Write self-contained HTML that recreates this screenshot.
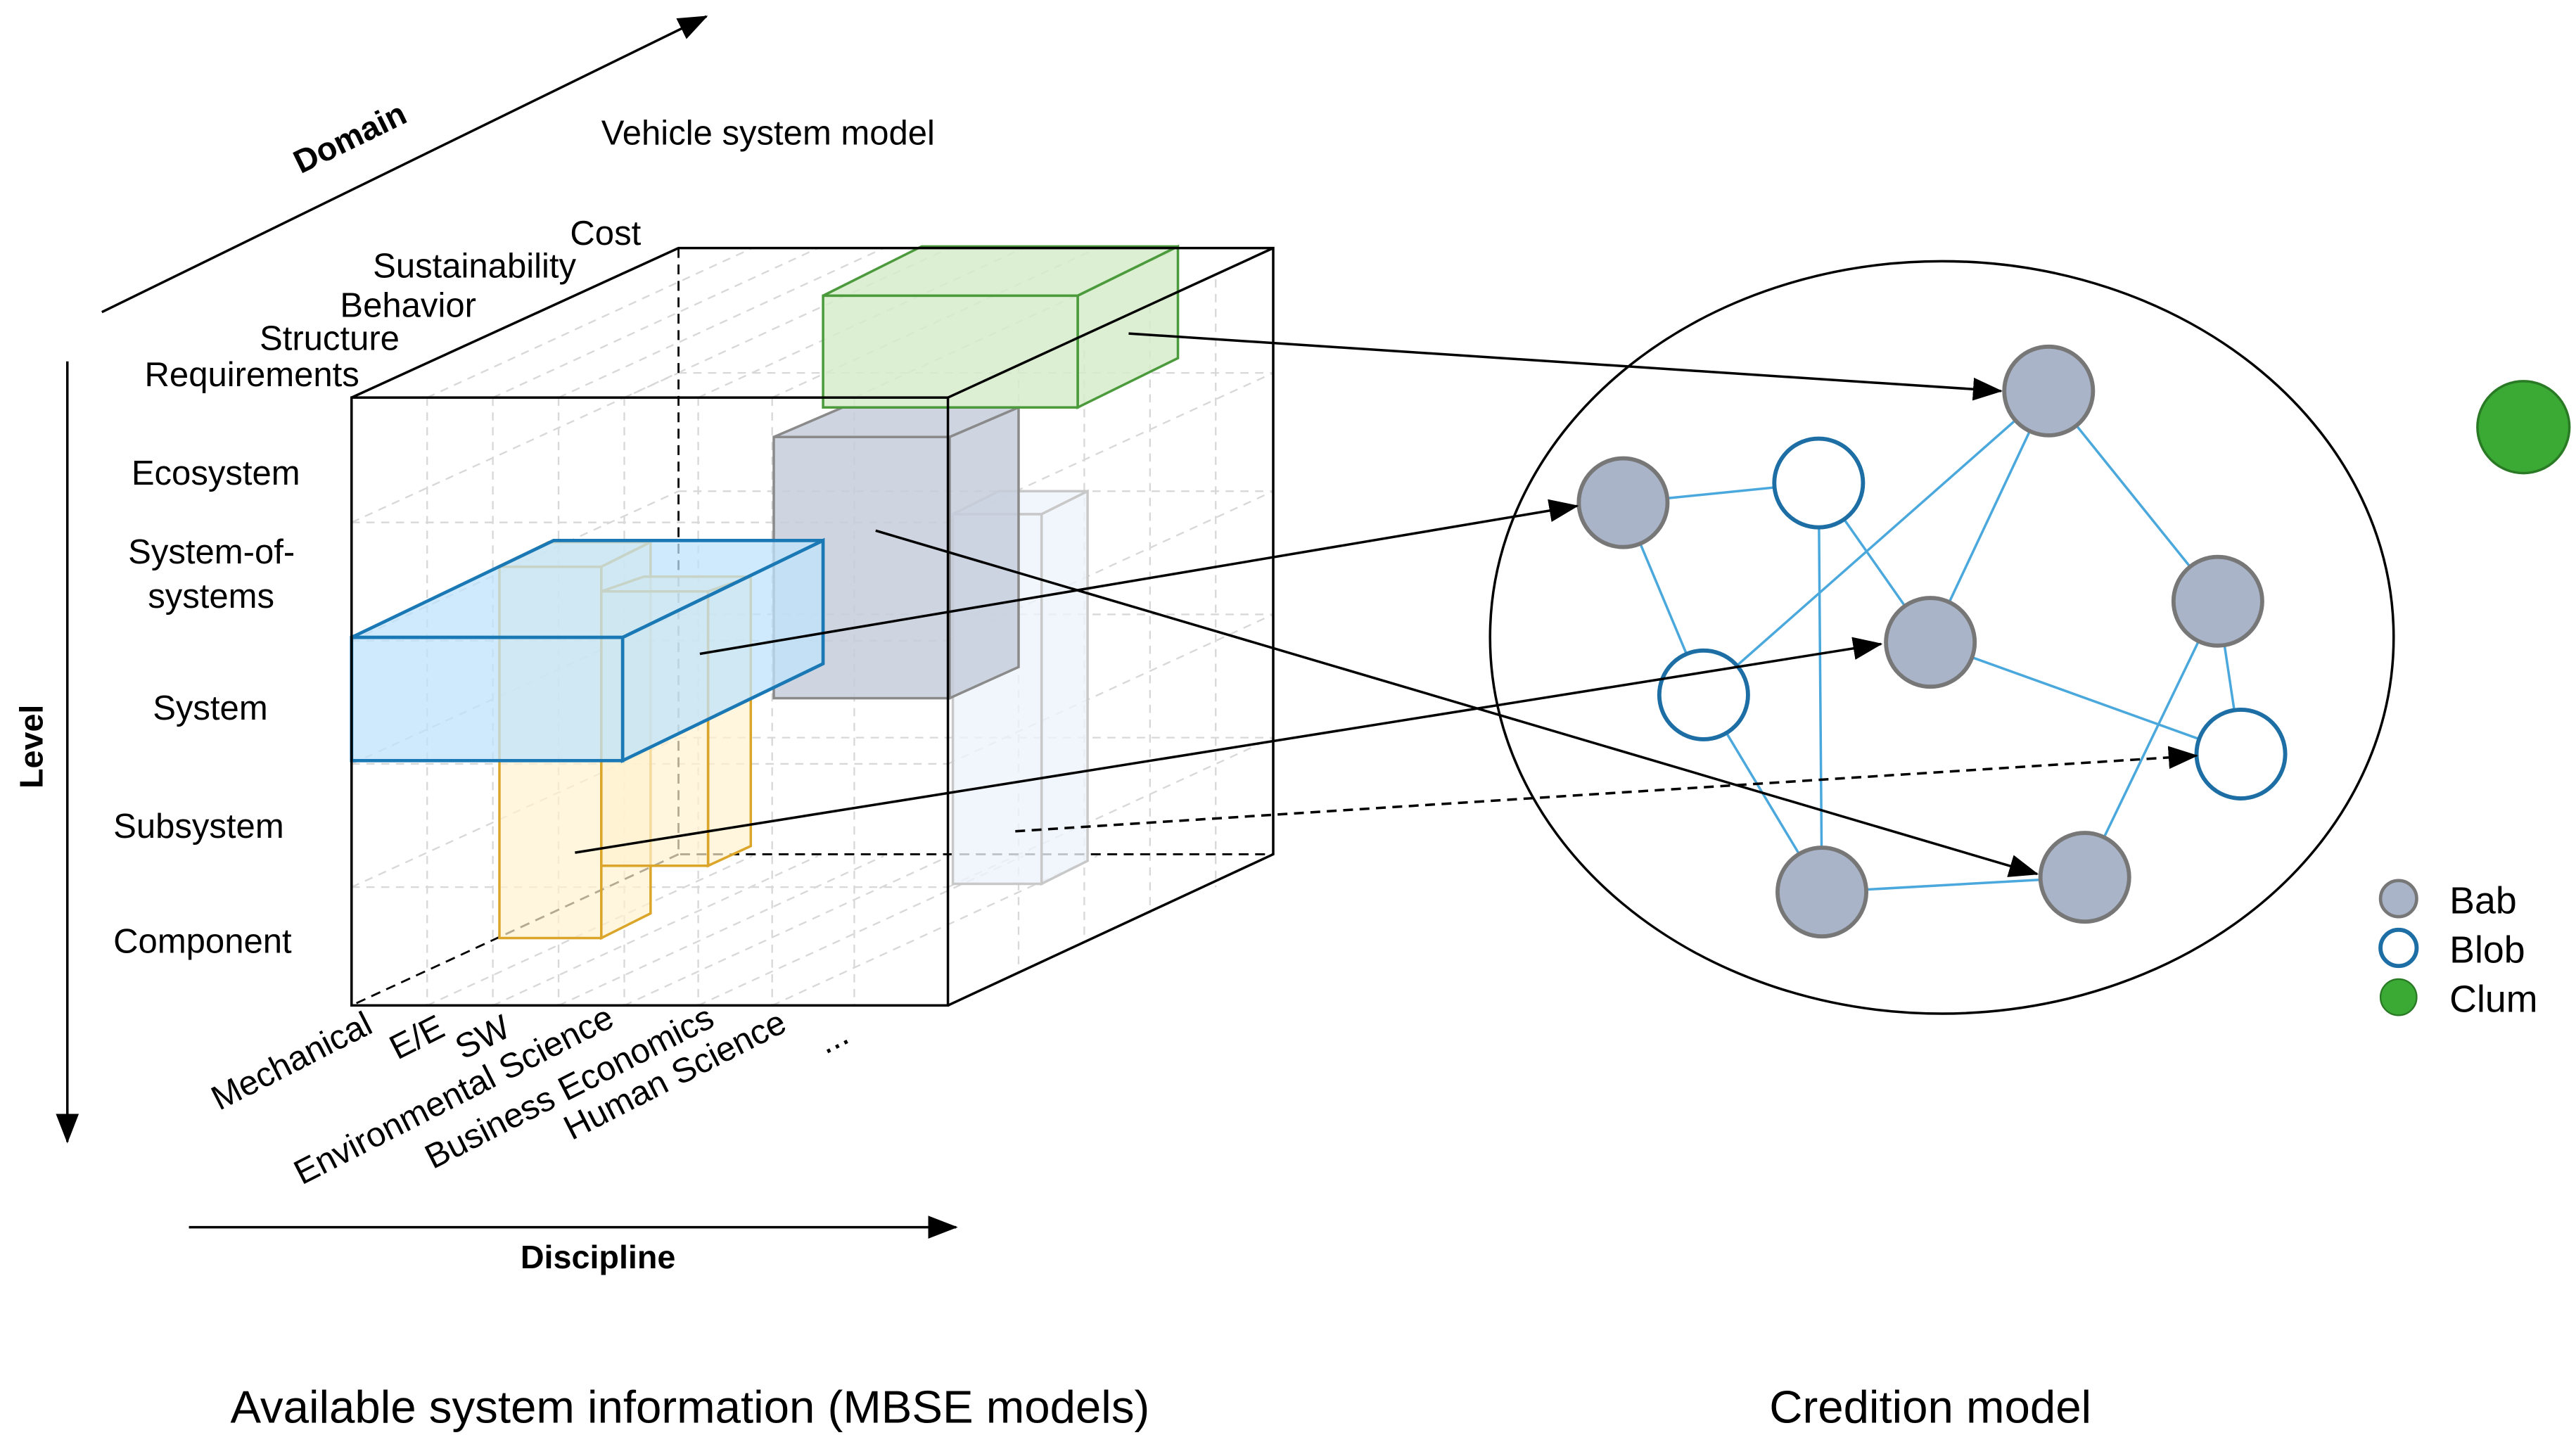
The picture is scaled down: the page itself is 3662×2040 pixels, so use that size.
<!DOCTYPE html>
<html><head><meta charset="utf-8"><style>
html,body{margin:0;padding:0;background:#fff;}
svg{display:block;}
text{font-family:"Liberation Sans",Arial,sans-serif;fill:#000;}
</style></head><body>
<svg width="3662" height="2040" viewBox="0 0 1568 873.5" preserveAspectRatio="none" xmlns="http://www.w3.org/2000/svg">
<defs>
<marker id="ahb" markerWidth="18" markerHeight="18" refX="17" refY="9" orient="auto" markerUnits="userSpaceOnUse" viewBox="0 0 18 18"><path d="M0,2 L18,9 L0,16 z" fill="#000"/></marker>
</defs>

<g stroke="#d8d8d8" stroke-width="1" stroke-dasharray="5,4" fill="none">
<path d="M260,242V612M300,242V612M340,242V612M380,242V612M425,242V612M470,242V612M520,242V612"/>
<path d="M214,318H577M214,390H577M214,465H577M214,540H577"/>
<path d="M214,318L413,227M214,390L413,299M214,465L413,374M214,540L413,449"/>
<path d="M413,227H775M413,299H775M413,374H775M413,449H775"/>
<path d="M260,242L458,151M300,242L498,151M340,242L538,151M380,242L578,151M425,242L623,151M470,242L668,151M520,242L718,151"/>
<path d="M577,318L775,227M577,390L775,299M577,465L775,374M577,540L775,449"/>
<path d="M620,222V592M660,204V574M700,186V556M740,170V540"/>
<path d="M260,612L458,521M300,612L498,521M340,612L538,521M380,612L578,521M425,612L623,521M470,612L668,521"/>
</g>

<g stroke="#000" stroke-width="1.2" stroke-dasharray="6,4" fill="none">
<path d="M413,151V520H775M413,520L214,612"/>
</g>

<g stroke="#c8c8c8" stroke-width="1.5" fill="#eef4fb" fill-opacity="0.8">
<path d="M580,313L608,299H662L634,313Z"/>
<path d="M634,313L662,299V524L634,538Z"/>
<rect x="580" y="313" width="54" height="225"/>
</g>

<g stroke="#dba52a" stroke-width="1.5" fill="#fff2cf" fill-opacity="0.7">
<path d="M304,345L334,330H396L366,345Z"/>
<path d="M366,345L396,330V556L366,571Z"/>
<rect x="304" y="345" width="62" height="226"/>
<path d="M366,360L392,351H457L431,360Z"/>
<path d="M431,360L457,351V515L431,527Z"/>
<rect x="366" y="360" width="65" height="167"/>
</g>

<g stroke="#8a8a8a" stroke-width="1.5" fill="#c5cedc" fill-opacity="0.85">
<path d="M471,266L513,248H620L578,266Z"/>
<path d="M578,266L620,248V406L578,425Z"/>
<rect x="471" y="266" width="107" height="159"/>
</g>

<g stroke="#4b9a3b" stroke-width="1.5" fill="#d6ecca" fill-opacity="0.85">
<path d="M501,180L561,150H717L656,180Z"/>
<path d="M656,180L717,150V218L656,248Z"/>
<rect x="501" y="180" width="155" height="68"/>
</g>

<g stroke="#1a78b5" stroke-width="2" fill="#bfe3fb" fill-opacity="0.75">
<path d="M214,388L337,329H501L379,388Z"/>
<path d="M379,388L501,329V404L379,463Z"/>
<rect x="214" y="388" width="165" height="75"/>
</g>

<g stroke="#000" stroke-width="1.5" fill="none">
<rect x="214" y="242" width="363" height="370"/>
<path d="M214,242L413,151H775V520L577,612M577,242L775,151"/>
</g>

<g stroke="#000" stroke-width="1.5" fill="none">
<line x1="62" y1="190" x2="430" y2="10" marker-end="url(#ahb)"/>
<line x1="41" y1="220" x2="41" y2="695" marker-end="url(#ahb)"/>
<line x1="115" y1="747" x2="582" y2="747" marker-end="url(#ahb)"/>
</g>

<ellipse cx="1182" cy="388" rx="275" ry="229" fill="none" stroke="#000" stroke-width="1.5"/>
<g stroke="#4aa8dc" stroke-width="1.5">
<line x1="988" y1="306" x2="1107" y2="294"/><line x1="988" y1="306" x2="1037" y2="423"/>
<line x1="1107" y1="294" x2="1109" y2="543"/><line x1="1107" y1="294" x2="1175" y2="391"/>
<line x1="1037" y1="423" x2="1247" y2="238"/><line x1="1247" y1="238" x2="1175" y2="391"/>
<line x1="1247" y1="238" x2="1350" y2="366"/><line x1="1037" y1="423" x2="1109" y2="543"/>
<line x1="1109" y1="543" x2="1269" y2="534"/><line x1="1175" y1="391" x2="1364" y2="459"/>
<line x1="1350" y1="366" x2="1364" y2="459"/><line x1="1350" y1="366" x2="1269" y2="534"/>
</g>
<g fill="#a9b4c9" stroke="#777" stroke-width="2.5">
<circle cx="1247" cy="238" r="27"/><circle cx="988" cy="306" r="27"/><circle cx="1175" cy="391" r="27"/>
<circle cx="1350" cy="366" r="27"/><circle cx="1109" cy="543" r="27"/><circle cx="1269" cy="534" r="27"/>
</g>
<g fill="#fff" stroke="#1c6ea4" stroke-width="2.5">
<circle cx="1107" cy="294" r="27"/><circle cx="1037" cy="423" r="27"/><circle cx="1364" cy="459" r="27"/>
</g>
<circle cx="1536" cy="260" r="28" fill="#3aaa35" stroke="#2a7a25" stroke-width="1.5"/>

<g stroke="#000" stroke-width="1.5" fill="none">
<line x1="687" y1="203" x2="1218" y2="238" marker-end="url(#ahb)"/>
<line x1="426" y1="398" x2="960" y2="308" marker-end="url(#ahb)"/>
<line x1="533" y1="323" x2="1240" y2="532" marker-end="url(#ahb)"/>
<line x1="350" y1="519" x2="1145" y2="392" marker-end="url(#ahb)"/>
<line x1="618" y1="506" x2="1337" y2="460" stroke-dasharray="6,4" marker-end="url(#ahb)"/>
</g>

<circle cx="1460" cy="547" r="11" fill="#a9b4c9" stroke="#777" stroke-width="2"/>
<circle cx="1460" cy="577" r="11" fill="#fff" stroke="#1c6ea4" stroke-width="2.5"/>
<circle cx="1460" cy="607" r="11" fill="#3aaa35" stroke="#2a7a25" stroke-width="1"/>
<g font-size="23">
<text x="1491" y="556">Bab</text><text x="1491" y="586">Blob</text><text x="1491" y="616">Clum</text>
</g>

<g font-size="21">
<text x="366" y="88">Vehicle system model</text>
<text x="80" y="295">Ecosystem</text>
<text x="78" y="343">System-of-</text>
<text x="90" y="370">systems</text>
<text x="93" y="438">System</text>
<text x="69" y="510">Subsystem</text>
<text x="69" y="580">Component</text>
<text x="88" y="235">Requirements</text>
<text x="158" y="213">Structure</text>
<text x="207" y="193">Behavior</text>
<text x="227" y="169">Sustainability</text>
<text x="347" y="149">Cost</text>
</g>
<g font-size="21" text-anchor="end">
<text transform="translate(228,628) rotate(-27)">Mechanical</text>
<text transform="translate(272,630) rotate(-27)">E/E</text>
<text transform="translate(312,630) rotate(-27)">SW</text>
<text transform="translate(375,624) rotate(-27)">Environmental Science</text>
<text transform="translate(436,624) rotate(-27)">Business Economics</text>
<text transform="translate(480,627) rotate(-27)">Human Science</text>
<text transform="translate(518,634) rotate(-27)">...</text>
</g>
<g font-size="20" font-weight="bold">
<text transform="translate(183,106) rotate(-26)">Domain</text>
<text transform="translate(26,480) rotate(-90)">Level</text>
<text x="364" y="772" text-anchor="middle">Discipline</text>
</g>
<g font-size="28">
<text x="420" y="866" text-anchor="middle">Available system information (MBSE models)</text>
<text x="1175" y="866" text-anchor="middle">Credition model</text>
</g>
</svg>
</body></html>
